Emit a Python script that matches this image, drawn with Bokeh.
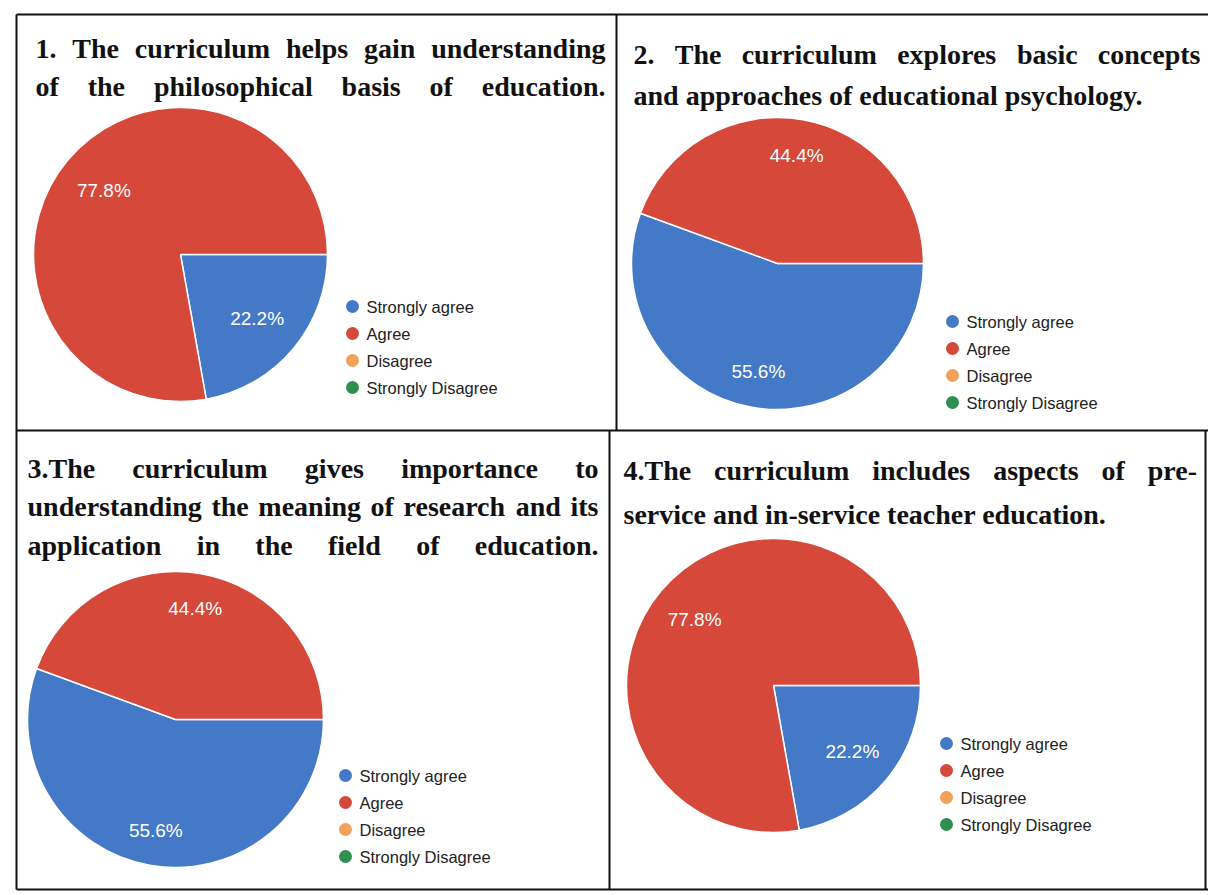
import math
from bokeh.plotting import figure
from bokeh.models import Range1d, ColumnDataSource
from bokeh.core.properties import value
from bokeh.embed import file_html
from bokeh.resources import INLINE

# ---------------- data ----------------
categories = ["Strongly agree", "Agree", "Disagree", "Strongly Disagree"]
colors = ["#4479c8", "#d5483a", "#f2a15a", "#2f8f4e"]
q1_pct = [22.2, 77.8, 0.0, 0.0]
q2_pct = [55.6, 44.4, 0.0, 0.0]
q3_pct = [55.6, 44.4, 0.0, 0.0]
q4_pct = [22.2, 77.8, 0.0, 0.0]

q1_title = ["1. The curriculum helps gain understanding",
            "of the philosophical basis of education."]
q2_title = ["2. The curriculum explores basic concepts",
            "and approaches of educational psychology."]
q3_title = ["3.The curriculum gives importance to",
            "understanding the meaning of research and its",
            "application in the field of education."]
q4_title = ["4.The curriculum includes aspects of pre-",
            "service and in-service teacher education."]

# ---------------- layout (page pixel coordinates) ----------------
W, H = 1208, 895

def Y(y):  # page y (from top) -> data y
    return H - y

panels = [
    dict(pct=q1_pct, title=q1_title, cx=180, cy=254, r=147, lr=0.68,
         tl=35, tr=605, ty=[48, 86], just=[True, True],
         lgx=352, lgy=306),
    dict(pct=q2_pct, title=q2_title, cx=777, cy=263, r=146, lr=0.75,
         tl=633, tr=1200, ty=[54, 95], just=[True, False],
         lgx=952, lgy=321),
    dict(pct=q3_pct, title=q3_title, cx=175, cy=719, r=148, lr=0.76,
         tl=27, tr=598, ty=[468, 506, 545], just=[True, True, True],
         lgx=345, lgy=775),
    dict(pct=q4_pct, title=q4_title, cx=773, cy=685, r=147, lr=0.70,
         tl=623, tr=1197, ty=[470, 514], just=[True, False],
         lgx=946, lgy=743),
]
LEG_DY = 27

# Times-bold metrics (per 1000 em) for justification
TW = {' ': 250, '.': 250, ',': 250, '-': 333,
      'a': 500, 'b': 556, 'c': 444, 'd': 556, 'e': 444, 'f': 333, 'g': 500,
      'h': 556, 'i': 278, 'j': 333, 'k': 556, 'l': 278, 'm': 833, 'n': 556,
      'o': 500, 'p': 556, 'q': 556, 'r': 444, 's': 389, 't': 333, 'u': 556,
      'v': 500, 'w': 722, 'x': 500, 'y': 500, 'z': 444, 'T': 667}
TFS = 28

def wwidth(w):
    return sum(TW.get(ch, 500) for ch in w) * TFS / 1000.0

p = figure(width=W, height=H, x_range=Range1d(0, W), y_range=Range1d(0, H),
           output_backend="svg", toolbar_location=None, min_border=0,
           min_border_left=0, min_border_right=0, min_border_top=0, min_border_bottom=0)
p.axis.visible = False
p.grid.visible = False
p.outline_line_color = None
p.background_fill_color = "white"
p.border_fill_color = "white"

# table borders
p.segment(x0=[16, 16, 16, 16, 616, 609, 1205], y0=[Y(14), Y(430), Y(889), Y(14), Y(14), Y(430), Y(430)],
          x1=[1208, 1208, 1208, 16, 616, 609, 1205], y1=[Y(14), Y(430), Y(889), Y(889), Y(430), Y(889), Y(889)],
          line_color="#111111", line_width=2)

for pn in panels:
    pct = pn["pct"]
    total = sum(pct)
    cum = 0.0
    ws = dict(x=[], y=[], s=[], e=[], c=[])
    lab = dict(x=[], y=[], t=[])
    for v, c in zip(pct, colors):
        if v <= 0:
            continue
        f0 = cum / total
        f1 = (cum + v) / total
        cum += v
        ws["x"].append(pn["cx"]); ws["y"].append(Y(pn["cy"]))
        ws["s"].append(-2 * math.pi * f1); ws["e"].append(-2 * math.pi * f0)
        ws["c"].append(c)
        mid = -2 * math.pi * (f0 + f1) / 2
        lab["x"].append(pn["cx"] + pn["lr"] * pn["r"] * math.cos(mid))
        lab["y"].append(Y(pn["cy"]) + pn["lr"] * pn["r"] * math.sin(mid))
        lab["t"].append(f"{v:.1f}%")
    p.wedge(x="x", y="y", radius=pn["r"], radius_units="screen",
            start_angle="s", end_angle="e", direction="anticlock",
            fill_color="c", line_color="white", line_width=1.5,
            source=ColumnDataSource(ws))
    p.text(x="x", y="y", text="t", source=ColumnDataSource(lab),
           text_font=value("Liberation Sans"), text_font_size="19px",
           text_color="white", text_align="center", text_baseline="middle")

    # legend
    ly = [Y(pn["lgy"] + i * LEG_DY) for i in range(len(categories))]
    p.scatter(x=[pn["lgx"]] * len(categories), y=ly, marker="circle", size=13,
              fill_color=colors, line_color=None)
    p.text(x=[pn["lgx"] + 14] * len(categories), y=ly, text=categories,
           text_font=value("Liberation Sans"), text_font_size="16.5px",
           text_color="#222222", text_align="left", text_baseline="middle")

    # title (justified like the source document)
    tx, tyv, tt = [], [], []
    for line, yy, just in zip(pn["title"], pn["ty"], pn["just"]):
        if not just:
            tx.append(pn["tl"]); tyv.append(Y(yy)); tt.append(line)
            continue
        words = line.split()
        widths = [wwidth(w) for w in words]
        gap = (pn["tr"] - pn["tl"] - sum(widths)) / (len(words) - 1)
        xpos = pn["tl"]
        for w, wd in zip(words, widths):
            tx.append(xpos); tyv.append(Y(yy)); tt.append(w)
            xpos += wd + gap
    p.text(x=tx, y=tyv, text=tt, text_font=value("Liberation Serif"),
           text_font_size=f"{TFS}px", text_font_style="bold", text_color="#111111",
           text_align="left", text_baseline="middle")

open("out.html", "w").write(file_html(p, INLINE))
